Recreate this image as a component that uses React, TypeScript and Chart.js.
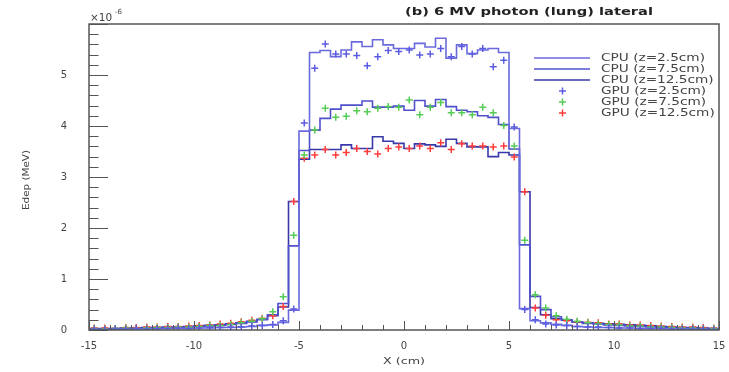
import React, { useEffect, useRef } from 'react';
import { Chart, registerables } from 'chart.js';
Chart.register(...registerables);

// Bin edges (cm), 0.5 cm bins from -15 to 15
const binEdges = [
  -15, -14.5, -14, -13.5, -13, -12.5, -12, -11.5, -11, -10.5, -10, -9.5, -9, -8.5, -8, -7.5, -7, -6.5, -6, -5.5,
  -5, -4.5, -4, -3.5, -3, -2.5, -2, -1.5, -1, -0.5, 0, 0.5, 1, 1.5, 2, 2.5, 3, 3.5, 4, 4.5,
  5, 5.5, 6, 6.5, 7, 7.5, 8, 8.5, 9, 9.5, 10, 10.5, 11, 11.5, 12, 12.5, 13, 13.5, 14, 14.5, 15,
];

// CPU histograms (x1e-6 MeV)
const cpuZ25 = [
  0.01, 0.01, 0.01, 0.02, 0.02, 0.02, 0.02, 0.03, 0.03, 0.03, 0.04, 0.04, 0.05, 0.05, 0.06, 0.07, 0.09, 0.10,
  0.15, 0.39, 3.90,
  5.44, 5.48, 5.36, 5.49, 5.65, 5.56, 5.69, 5.59, 5.52, 5.52, 5.62, 5.55, 5.72, 5.33, 5.59, 5.42, 5.49, 5.52, 5.44,
  3.95, 0.42, 0.18,
  0.14, 0.11, 0.09, 0.07, 0.06, 0.05, 0.05, 0.04, 0.04, 0.03, 0.03, 0.03, 0.02, 0.02, 0.02, 0.01, 0.01,
];
const cpuZ75 = [
  0.02, 0.02, 0.03, 0.03, 0.03, 0.04, 0.04, 0.05, 0.05, 0.06, 0.07, 0.08, 0.09, 0.11, 0.13, 0.16, 0.20, 0.30,
  0.52, 1.65, 3.52,
  3.92, 4.15, 4.33, 4.41, 4.41, 4.49, 4.37, 4.37, 4.39, 4.31, 4.50, 4.39, 4.52, 4.38, 4.31, 4.28, 4.20, 4.17, 4.03,
  3.55, 1.67, 0.66,
  0.40, 0.26, 0.20, 0.16, 0.13, 0.12, 0.10, 0.09, 0.08, 0.07, 0.06, 0.05, 0.05, 0.04, 0.03, 0.03, 0.02,
];
const cpuZ125 = [
  0.03, 0.03, 0.03, 0.04, 0.04, 0.05, 0.05, 0.06, 0.06, 0.07, 0.08, 0.09, 0.10, 0.12, 0.14, 0.17, 0.21, 0.28,
  0.45, 2.52, 3.35,
  3.54, 3.54, 3.54, 3.63, 3.56, 3.56, 3.79, 3.70, 3.66, 3.56, 3.65, 3.63, 3.60, 3.74, 3.66, 3.59, 3.59, 3.40, 3.48,
  3.43, 2.71, 0.44,
  0.30, 0.22, 0.19, 0.16, 0.14, 0.13, 0.12, 0.11, 0.10, 0.09, 0.08, 0.07, 0.06, 0.05, 0.05, 0.04, 0.03,
];

// GPU points at bin centres
const gpuZ25 = [
  0.02, 0.01, 0.02, 0.02, 0.03, 0.02, 0.03, 0.03, 0.04, 0.03, 0.04, 0.05, 0.05, 0.06, 0.06, 0.08, 0.09, 0.11,
  0.18, 0.41, 4.06,
  5.13, 5.61, 5.41, 5.41, 5.38, 5.18, 5.36, 5.48, 5.46, 5.49, 5.39, 5.41, 5.52, 5.36, 5.56, 5.41, 5.52, 5.16, 5.29,
  3.98, 0.40, 0.20,
  0.12, 0.10, 0.09, 0.07, 0.06, 0.06, 0.05, 0.04, 0.04, 0.03, 0.03, 0.03, 0.02, 0.02, 0.02, 0.02, 0.01,
];
const gpuZ75 = [
  0.03, 0.02, 0.03, 0.04, 0.03, 0.04, 0.05, 0.05, 0.06, 0.06, 0.07, 0.09, 0.09, 0.11, 0.14, 0.17, 0.22, 0.36,
  0.65, 1.86, 3.43,
  3.92, 4.35, 4.17, 4.19, 4.30, 4.28, 4.35, 4.38, 4.37, 4.51, 4.22, 4.37, 4.46, 4.26, 4.26, 4.22, 4.37, 4.26, 4.01,
  3.61, 1.76, 0.69,
  0.43, 0.28, 0.21, 0.17, 0.14, 0.12, 0.11, 0.10, 0.08, 0.08, 0.06, 0.06, 0.05, 0.04, 0.04, 0.03, 0.03,
];
const gpuZ125 = [
  0.04, 0.04, 0.03, 0.05, 0.05, 0.06, 0.06, 0.07, 0.07, 0.08, 0.09, 0.10, 0.12, 0.13, 0.16, 0.19, 0.23, 0.28,
  0.46, 2.52, 3.37,
  3.43, 3.54, 3.43, 3.48, 3.56, 3.50, 3.45, 3.56, 3.59, 3.56, 3.61, 3.56, 3.67, 3.54, 3.65, 3.61, 3.61, 3.59, 3.61,
  3.39, 2.71, 0.43,
  0.29, 0.20, 0.18, 0.16, 0.15, 0.14, 0.12, 0.12, 0.10, 0.10, 0.09, 0.08, 0.07, 0.06, 0.06, 0.05, 0.04,
];

const xTickValues = [-15, -10, -5, 0, 5, 10, 15];
const yTickValues = [0, 1, 2, 3, 4, 5];

const titleText = '(b) 6 MV photon (lung) lateral';
const xTitle = 'X (cm)';
const yTitle = 'Edep (MeV)';
const cpuLabels = ['CPU (z=2.5cm)', 'CPU (z=7.5cm)', 'CPU (z=12.5cm)'];
const gpuLabels = ['GPU (z=2.5cm)', 'GPU (z=7.5cm)', 'GPU (z=12.5cm)'];

const cpuColors = ['#6a6ade', '#5050cc', '#3838aa'];
const gpuColors = ['#5c5ce0', '#55cc55', '#ff3c3c'];

const FONT = '"DejaVu Sans", "Liberation Sans", sans-serif';

function histPoints(vals: number[]) {
  const pts = vals.map((v, i) => ({ x: binEdges[i], y: v }));
  pts.push({ x: binEdges[binEdges.length - 1], y: vals[vals.length - 1] });
  return pts;
}
function centerPoints(vals: number[]) {
  return vals.map((v, i) => ({ x: (binEdges[i] + binEdges[i + 1]) / 2, y: v }));
}

function drawScaled(
  ctx: CanvasRenderingContext2D,
  text: string,
  x: number,
  y: number,
  font: string,
  color: string,
  sx: number,
  align: 'left' | 'center' | 'right',
) {
  ctx.save();
  ctx.font = font;
  ctx.fillStyle = color;
  ctx.textBaseline = 'middle';
  ctx.textAlign = align;
  ctx.translate(x, y);
  ctx.scale(sx, 1);
  ctx.fillText(text, 0, 0);
  ctx.restore();
}

const rootPlugin = {
  id: 'rootDecor',
  afterDraw(chart: any) {
    const ctx: CanvasRenderingContext2D = chart.ctx;
    const { left, right, top, bottom } = chart.chartArea;
    const xs = chart.scales.x;
    const ys = chart.scales.y;
    ctx.save();
    // frame
    ctx.strokeStyle = '#555';
    ctx.lineWidth = 1.5;
    ctx.strokeRect(left, top, right - left, bottom - top);
    // ticks
    ctx.lineWidth = 1;
    ctx.strokeStyle = '#555';
    ctx.beginPath();
    for (let v = 0; v <= 6.0001; v += 0.2) {
      const py = Math.round(ys.getPixelForValue(v)) + 0.5;
      const major = Math.abs(v - Math.round(v)) < 1e-6;
      const len = major ? 19 : 9.5;
      ctx.moveTo(left, py);
      ctx.lineTo(left + len, py);
    }
    for (let v = -15; v <= 15; v += 1) {
      const px = Math.round(xs.getPixelForValue(v)) + 0.5;
      const major = v % 5 === 0;
      const len = major ? 9 : 5;
      ctx.moveTo(px, bottom);
      ctx.lineTo(px, bottom - len);
    }
    ctx.stroke();

    // title
    ctx.font = `bold 11px ${FONT}`;
    const tw = ctx.measureText(titleText).width;
    drawScaled(ctx, titleText, 529, 12, `bold 11px ${FONT}`, '#222', 248 / tw, 'center');

    // exponent
    drawScaled(ctx, '×10', left + 1, 18, `10px ${FONT}`, '#444', 1.05, 'left');
    drawScaled(ctx, '-6', left + 26, 12, `7px ${FONT}`, '#444', 1.0, 'left');

    // axis titles
    ctx.font = `9px ${FONT}`;
    const xw = ctx.measureText(xTitle).width;
    drawScaled(ctx, xTitle, (left + right) / 2, 362, `9px ${FONT}`, '#444', 42 / xw, 'center');
    ctx.save();
    ctx.translate(27, 180);
    ctx.rotate(-Math.PI / 2);
    ctx.font = `9px ${FONT}`;
    const yw = ctx.measureText(yTitle).width;
    drawScaled(ctx, yTitle, 0, 0, `9px ${FONT}`, '#444', 60 / yw, 'center');
    ctx.restore();

    // legend
    const rows = [58, 69, 80, 91, 102, 113];
    ctx.font = `10px ${FONT}`;
    const lw = ctx.measureText(cpuLabels[0]).width;
    const lsx = 104 / lw;
    for (let i = 0; i < 3; i++) {
      ctx.strokeStyle = cpuColors[i];
      ctx.lineWidth = 1.5;
      ctx.beginPath();
      ctx.moveTo(534, rows[i]);
      ctx.lineTo(590, rows[i]);
      ctx.stroke();
      drawScaled(ctx, cpuLabels[i], 601, rows[i], `10px ${FONT}`, '#444', lsx, 'left');
    }
    for (let i = 0; i < 3; i++) {
      const y = rows[i + 3];
      ctx.strokeStyle = gpuColors[i];
      ctx.lineWidth = 1.5;
      ctx.beginPath();
      ctx.moveTo(559, y);
      ctx.lineTo(566, y);
      ctx.moveTo(562.5, y - 3.5);
      ctx.lineTo(562.5, y + 3.5);
      ctx.stroke();
      drawScaled(ctx, gpuLabels[i], 601, y, `10px ${FONT}`, '#444', lsx, 'left');
    }
    ctx.restore();
  },
};

export default function App() {
  const ref = useRef<HTMLCanvasElement>(null);
  useEffect(() => {
    const canvas = ref.current!;
    const cpuSets = [cpuZ25, cpuZ75, cpuZ125].map((vals, i) => ({
      type: 'line' as const,
      label: cpuLabels[i],
      data: histPoints(vals),
      stepped: 'before' as const,
      borderColor: cpuColors[i],
      borderWidth: 1.6,
      pointRadius: 0,
      fill: false,
      order: 2,
    }));
    const gpuSets = [gpuZ25, gpuZ75, gpuZ125].map((vals, i) => ({
      type: 'scatter' as const,
      label: gpuLabels[i],
      data: centerPoints(vals),
      showLine: false,
      pointStyle: 'cross' as const,
      pointRadius: 3.5,
      borderWidth: 1.5,
      borderColor: gpuColors[i],
      backgroundColor: gpuColors[i],
      order: 1,
    }));
    const chart = new Chart(canvas, {
      type: 'line',
      data: { datasets: [...gpuSets, ...cpuSets] as any },
      options: {
        responsive: false,
        animation: false,
        devicePixelRatio: 1,
        layout: { padding: { left: 0, top: 24, right: 10, bottom: 0 } },
        plugins: { legend: { display: false }, tooltip: { enabled: false }, title: { display: false } },
        scales: {
          x: {
            type: 'linear',
            min: -15,
            max: 15,
            afterBuildTicks: (s: any) => {
              s.ticks = xTickValues.map((v) => ({ value: v }));
            },
            afterFit: (s: any) => {
              s.height = 42;
              s.paddingLeft = 0;
              s.paddingRight = 0;
            },
            ticks: {
              color: '#444',
              font: { family: FONT, size: 10 },
              padding: 10,
              maxRotation: 0,
              autoSkip: false,
            },
            grid: { display: false, drawTicks: false },
            border: { display: false },
          },
          y: {
            type: 'linear',
            min: 0,
            max: 6,
            afterBuildTicks: (s: any) => {
              s.ticks = yTickValues.map((v) => ({ value: v }));
            },
            afterFit: (s: any) => {
              s.width = 89;
              s.paddingTop = 0;
              s.paddingBottom = 0;
            },
            ticks: {
              color: '#444',
              font: { family: FONT, size: 10 },
              padding: 22,
              autoSkip: false,
            },
            grid: { display: false, drawTicks: false },
            border: { display: false },
          },
        },
      } as any,
      plugins: [rootPlugin],
    });
    return () => chart.destroy();
  }, []);
  return (
    <div style={{ position: 'fixed', left: 0, top: 0, width: 729, height: 372, background: '#fff' }}>
      <canvas ref={ref} width={729} height={372} style={{ display: 'block' }} />
    </div>
  );
}
